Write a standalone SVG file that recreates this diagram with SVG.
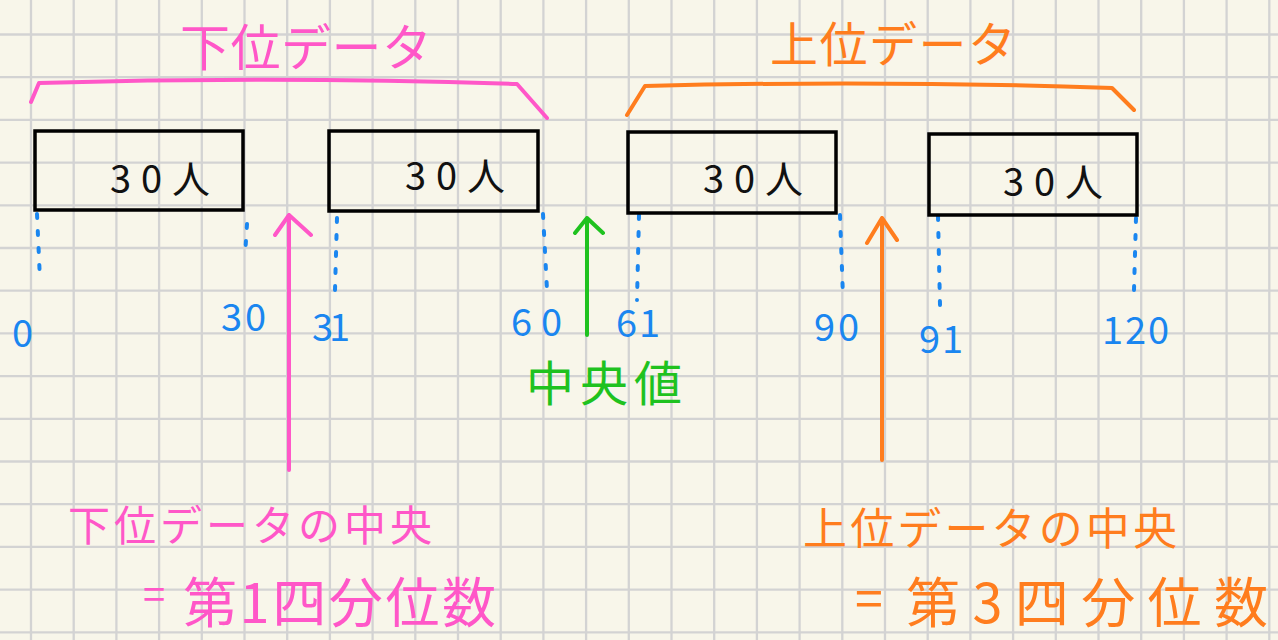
<svg xmlns="http://www.w3.org/2000/svg" width="1278" height="640" viewBox="0 0 1278 640">
<style>
.grid{stroke:#d3d3d3;stroke-width:2.3;fill:none}
.box{fill:none;stroke:#000;stroke-width:3.5;stroke-linejoin:miter}
.t{font-family:"Noto Sans CJK JP","Noto Sans",sans-serif}
.blk{fill:#111}
.pink{fill:#ff57c8}
.org{fill:#ff7d1e}
.grn{fill:#1fc21f}
.blu{fill:#1a86f0}
.dot{fill:none;stroke:#1a86f0;stroke-width:4;stroke-linecap:round;stroke-dasharray:4 13}
.pl{fill:none;stroke:#ff57c8;stroke-width:4;stroke-linecap:round;stroke-linejoin:round}
.ol{fill:none;stroke:#ff7d1e;stroke-width:4;stroke-linecap:round;stroke-linejoin:round}
.gl{fill:none;stroke:#1fc21f;stroke-width:4;stroke-linecap:round;stroke-linejoin:round}
</style>
<rect width="1278" height="640" fill="#f8f6ea"/>
<path class="grid" d="M31 0V640M73.7 0V640M116.4 0V640M159.1 0V640M201.8 0V640M244.5 0V640M287.2 0V640M329.9 0V640M372.6 0V640M415.3 0V640M458 0V640M500.7 0V640M543.4 0V640M586.1 0V640M628.8 0V640M671.5 0V640M714.2 0V640M756.9 0V640M799.6 0V640M842.3 0V640M885 0V640M927.7 0V640M970.4 0V640M1013.1 0V640M1055.8 0V640M1098.5 0V640M1141.2 0V640M1183.9 0V640M1226.6 0V640M1269.3 0V640M0 34.5H1278M0 77.2H1278M0 119.9H1278M0 162.6H1278M0 205.3H1278M0 248H1278M0 290.7H1278M0 333.4H1278M0 376.1H1278M0 418.8H1278M0 461.5H1278M0 504.2H1278M0 546.9H1278M0 589.6H1278M0 632.3H1278"/>

<g id="connectors">
  <path class="pl" d="M31 102 L39 83 Q280 76 517 84 L547 118"/>
  <path class="ol" d="M627 115 L645 86 Q880 80 1112 88 L1134 110"/>
  <path class="dot" d="M37 214 L40 280"/>
  <path class="dot" d="M247 224 L245 256"/>
  <path class="dot" d="M337 218 L335 290"/>
  <path class="dot" d="M543 214 L547 290"/>
  <path class="dot" d="M639 215 L637 300"/>
  <path class="dot" d="M840 215 L843 297"/>
  <path class="dot" d="M938 216 L940 305"/>
  <path class="dot" d="M1136 218 L1134 290"/>
  <path class="pl" d="M289 470 V215 M275 235 L289 215 L311 235"/>
  <path class="gl" d="M587 335 V218 M575 233 L587 218 L603 233"/>
  <path class="ol" d="M882 460 V218 M867 243 L882 218 L897 240"/>
</g>

<g id="title-lower"><text class="t pink" x="180" y="66" font-size="50" textLength="252" lengthAdjust="spacing">下位データ</text></g>
<g id="title-upper"><text class="t org" x="770" y="62" font-size="48" textLength="246" lengthAdjust="spacing">上位データ</text></g>

<g id="box1"><path class="box" d="M35 131 H243 V210 H35 Z"/><text class="t blk" x="110" y="193" font-size="38" textLength="100" lengthAdjust="spacing">30人</text></g>
<g id="box2"><path class="box" d="M329 131 H538 V211 H329 Z"/><text class="t blk" x="405" y="190" font-size="38" textLength="100" lengthAdjust="spacing">30人</text></g>
<g id="box3"><path class="box" d="M628 132 H836 V213 H628 Z"/><text class="t blk" x="703" y="193" font-size="38" textLength="100" lengthAdjust="spacing">30人</text></g>
<g id="box4"><path class="box" d="M929 134 H1137 V215 H929 Z"/><text class="t blk" x="1003" y="196" font-size="38" textLength="100" lengthAdjust="spacing">30人</text></g>

<g id="labels" class="t blu" font-size="38">
  <text x="12" y="347">0</text>
  <text x="221" y="331" textLength="45" lengthAdjust="spacing">30</text>
  <text x="312" y="341" textLength="38" lengthAdjust="spacing">31</text>
  <text x="511" y="336" textLength="51" lengthAdjust="spacing">60</text>
  <text x="616" y="337" textLength="44" lengthAdjust="spacing">61</text>
  <text x="814" y="341" textLength="45" lengthAdjust="spacing">90</text>
  <text x="919" y="353" textLength="44" lengthAdjust="spacing">91</text>
  <text x="1102" y="344" textLength="67" lengthAdjust="spacing">120</text>
</g>

<g id="median"><text class="t grn" x="526" y="401" font-size="48" textLength="156" lengthAdjust="spacing">中央値</text></g>

<g id="q1">
  <text class="t pink" x="68" y="541" font-size="42" textLength="364" lengthAdjust="spacing">下位データの中央</text>
  <text class="t pink" x="143" y="609" font-size="40">=</text>
  <text class="t pink" x="183" y="623" font-size="54" textLength="313" lengthAdjust="spacing">第1四分位数</text>
</g>
<g id="q3">
  <text class="t org" x="803" y="545" font-size="44" textLength="374" lengthAdjust="spacing">上位データの中央</text>
  <text class="t org" x="855" y="617" font-size="50">=</text>
  <text class="t org" x="906" y="623" font-size="54" textLength="362" lengthAdjust="spacing">第3四分位数</text>
</g>
</svg>
